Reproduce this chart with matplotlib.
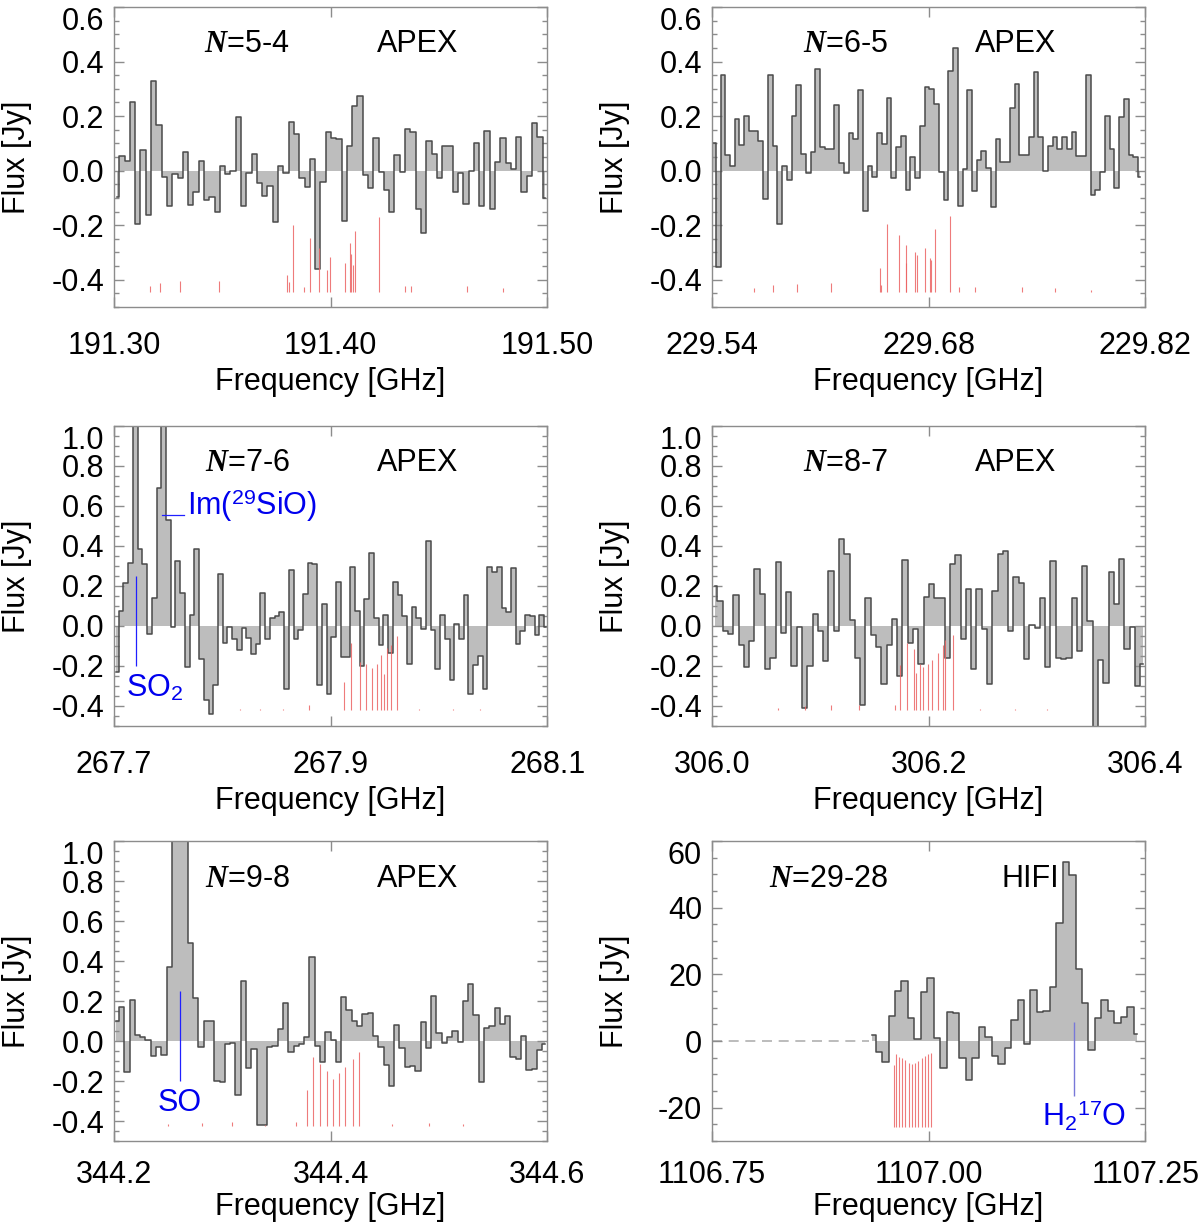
import numpy as np
import matplotlib
matplotlib.use("Agg")
import matplotlib.pyplot as plt
from matplotlib.ticker import MultipleLocator
from matplotlib.transforms import blended_transform_factory

plt.rcParams['font.family'] = ['Liberation Sans', 'DejaVu Sans']
plt.rcParams['mathtext.fontset'] = 'custom'
plt.rcParams['mathtext.rm'] = 'Liberation Sans'
plt.rcParams['mathtext.it'] = 'Liberation Serif:italic:bold'
plt.rcParams['mathtext.bf'] = 'Liberation Sans:bold'

# ---- spectra: first channel frequency, channel width (GHz), flux (Jy) ----
p1_f0, p1_df = 191.30123, 0.002443
p1_flux = [-0.095, 0.054, 0.034, 0.25, -0.196, 0.074, -0.163, 0.33, 0.166, -0.024,
           -0.13, -0.011, -0.027, 0.067, -0.126, -0.077, 0.034, -0.107, -0.096, -0.151,
           0.017, -0.012, 0.0, 0.195, -0.13, -0.01, 0.06, -0.044, -0.093, -0.057,
           -0.188, 0.018, -0.01, 0.18, 0.133, -0.028, -0.059, 0.041, -0.359, -0.04,
           0.14, 0.12, 0.115, -0.183, 0.09, 0.237, 0.274, -0.017, -0.065, 0.118,
           -0.005, -0.071, -0.152, 0.057, -0.006, 0.151, 0.14, -0.141, -0.229, 0.11,
           0.06, -0.026, 0.091, 0.091, -0.08, -0.01, -0.121, 0.0, 0.102, -0.129,
           0.146, -0.141, 0.033, 0.118, 0.027, 0.007, 0.122, -0.079, -0.018, 0.176,
           0.124, -0.1]

p2_f0, p2_df = 229.54093, 0.003067
p2_flux = [0.102, -0.355, 0.351, 0.057, 0.017, 0.188, 0.093, 0.199, 0.145, 0.145,
           0.107, -0.105, 0.351, 0.09, -0.195, 0.017, -0.034, 0.202, 0.315, 0.06,
           -0.009, 0.068, 0.374, 0.088, 0.079, 0.079, 0.239, 0.027, -0.009, 0.137,
           0.115, 0.294, -0.149, 0.018, -0.024, 0.137, 0.096, 0.268, -0.028, 0.088,
           0.127, -0.07, 0.05, -0.027, 0.163, 0.305, 0.3, 0.243, -0.006, -0.109,
           0.365, 0.45, -0.13, 0.005, 0.294, -0.076, 0.04, 0.072, 0.011, -0.133,
           0.115, 0.03, 0.03, 0.228, 0.316, 0.059, 0.057, 0.124, 0.363, 0.124,
           0.0, 0.091, 0.124, 0.078, 0.124, 0.078, 0.14, 0.055, 0.055, 0.352,
           -0.089, -0.072, -0.006, 0.201, 0.08, -0.065, 0.198, 0.262, 0.056, 0.05,
           -0.022]

p3_f0, p3_df = 267.70216, 0.004364
p3_flux = [-0.23, 0.073, 0.215, 0.315, 1.4, 0.383, 0.312, -0.042, 0.142, 0.692,
           1.3, 0.532, -0.005, 0.327, 0.167, -0.205, 0.057, 0.387, -0.163, -0.37,
           -0.44, -0.297, 0.262, -0.083, -0.007, -0.067, -0.122, -0.01, -0.058, -0.138,
           -0.088, 0.167, -0.067, 0.042, 0.05, 0.07, -0.317, 0.282, -0.067, -0.022,
           0.162, 0.317, 0.312, -0.293, 0.108, -0.342, -0.057, 0.22, -0.155, -0.155,
           0.295, 0.073, -0.2, 0.133, 0.365, 0.042, -0.097, 0.053, -0.133, 0.22,
           0.157, 0.05, -0.192, 0.095, 0.042, -0.013, 0.425, -0.018, -0.213, 0.057,
           -0.063, -0.268, 0.012, -0.063, 0.157, -0.338, -0.197, -0.148, -0.313, 0.295,
           0.27, 0.295, 0.092, 0.07, 0.29, -0.092, -0.025, 0.053, 0.048, -0.047,
           0.057, -0.005]

p4_f0, p4_df = 306.00266, 0.00488
p4_flux = [0.2, 0.125, -0.027, -0.042, 0.153, -0.093, -0.205, -0.077, 0.287, 0.162,
           -0.213, -0.16, 0.32, -0.033, 0.17, -0.202, -0.005, -0.408, -0.2, 0.06,
           -0.027, -0.177, 0.275, -0.027, 0.437, 0.358, 0.032, -0.16, -0.397, 0.14,
           -0.047, -0.105, -0.292, -0.093, 0.037, -0.252, 0.328, -0.083, -0.013, -0.192,
           0.145, 0.212, 0.14, 0.14, -0.16, 0.312, 0.357, -0.067, 0.183, -0.213,
           0.183, -0.013, -0.292, 0.173, 0.36, 0.375, -0.025, 0.245, 0.215, -0.163,
           0.007, -0.008, 0.14, -0.205, 0.325, -0.158, -0.165, -0.158, 0.14, -0.125,
           0.3, 0.023, -0.55, -0.168, -0.283, 0.27, 0.112, 0.333, -0.117, -0.005,
           -0.3, -0.188]

p5_f0, p5_df = 344.20216, 0.004885
p5_flux = [0.102, 0.168, -0.153, 0.205, 0.032, 0.022, 0.007, -0.073, -0.032, -0.07,
           0.368, 1.5, 1.8, 1.3, 0.49, 0.217, -0.028, 0.102, 0.102, -0.2,
           -0.205, -0.015, -0.01, -0.268, 0.302, -0.135, -0.04, -0.418, -0.418, -0.028,
           -0.023, 0.06, 0.188, -0.053, -0.023, -0.015, 0.022, 0.422, -0.023, -0.107,
           0.047, 0.005, -0.103, 0.218, 0.155, 0.102, 0.073, 0.135, 0.14, 0.027,
           -0.028, -0.12, -0.223, 0.08, -0.037, -0.128, -0.123, -0.148, 0.097, -0.037,
           0.227, 0.038, -0.012, 0.022, 0.052, -0.007, 0.198, 0.283, 0.132, -0.203,
           0.065, 0.073, 0.167, 0.083, 0.127, -0.082, -0.088, 0.027, -0.145, -0.14,
           -0.045, -0.015]

p6_f0, p6_df = 1106.93527, 0.00744
p6_flux = [1.8, -3.3, -6.2, 7.5, 15.0, 18.0, 7.0, 0.7, 14.8, 18.9,
           0.8, -8.2, 8.7, 8.4, -5.0, -11.7, -5.0, 4.2, 1.2, -4.4,
           -6.8, -2.0, 6.4, 12.3, -0.8, 15.2, 8.8, 9.0, 16.2, 35.4,
           53.7, 49.8, 21.5, 11.5, -2.8, 7.0, 12.3, 9.0, 5.5, 7.2,
           10.2, 2.0]

# ---- hyperfine components (red): frequency, top of line, common base ----
p1_hf_f = [191.31665, 191.32128, 191.33053, 191.34857, 191.37988, 191.38065, 191.3825,
           191.38759, 191.39067, 191.39483, 191.39823, 191.39961, 191.40686, 191.40917,
           191.40948, 191.41025, 191.41149, 191.42213, 191.43446, 191.43724, 191.46299,
           191.47949]
p1_hf_top = [-0.422, -0.412, -0.406, -0.404, -0.382, -0.41, -0.201, -0.427, -0.246, -0.283,
             -0.363, -0.317, -0.339, -0.267, -0.306, -0.345, -0.223, -0.171, -0.422, -0.422,
             -0.422, -0.429]
p1_hf_base = -0.445

p2_hf_f = [229.56695, 229.57927, 229.59484, 229.61668, 229.64829, 229.64898, 229.6534,
           229.6606, 229.66525, 229.66571, 229.67152, 229.67245, 229.67779, 229.68081,
           229.68174, 229.6843, 229.6936, 229.69987, 229.70986, 229.74053, 229.76168,
           229.78492]
p2_hf_top = [-0.43, -0.418, -0.415, -0.412, -0.357, -0.418, -0.195, -0.235, -0.272, -0.339,
             -0.299, -0.309, -0.284, -0.321, -0.327, -0.213, -0.168, -0.427, -0.427, -0.427,
             -0.43, -0.437]
p2_hf_base = -0.445

p3_hf_f = [267.81658, 267.83508, 267.85575, 267.88042, 267.9128, 267.91897, 267.9273,
           267.93285, 267.93809, 267.94303, 267.94673, 267.9492, 267.95197, 267.95598,
           267.96091, 267.98158, 268.01304, 268.03833]
p3_hf_top = [-0.413, -0.413, -0.413, -0.397, -0.28, -0.085, -0.18, -0.188, -0.21, -0.188,
             -0.147, -0.238, -0.108, -0.097, -0.048, -0.413, -0.413, -0.413]
p3_hf_base = -0.422

p4_hf_f = [306.06075, 306.08564, 306.10954, 306.1361, 306.16863, 306.17361, 306.17992,
           306.18622, 306.18855, 306.19187, 306.19519, 306.19917, 306.20349, 306.20846,
           306.21344, 306.2151, 306.2224, 306.24763, 306.28017, 306.30905]
p4_hf_top = [-0.408, -0.402, -0.397, -0.397, -0.397, -0.197, -0.085, -0.113, -0.233, -0.188,
             -0.205, -0.192, -0.172, -0.133, -0.097, -0.072, -0.047, -0.413, -0.413, -0.413]
p4_hf_base = -0.422

p5_hf_f = [344.24996, 344.28111, 344.30856, 344.3394, 344.36808, 344.37826, 344.38412,
           344.3906, 344.39646, 344.40201, 344.40818, 344.41342, 344.42051, 344.42606,
           344.4569, 344.49083, 344.52229]
p5_hf_top = [-0.415, -0.412, -0.407, -0.42, -0.407, -0.243, -0.082, -0.115, -0.148, -0.19,
             -0.162, -0.128, -0.09, -0.053, -0.415, -0.412, -0.415]
p5_hf_base = -0.427

p6_hf_f = [1106.96, 1106.96203, 1106.96577, 1106.9695, 1106.97324, 1106.97697, 1106.98071,
           1106.98444, 1106.98817, 1106.99191, 1106.99564, 1106.99938, 1107.00228]
p6_hf_top = [-7.2, -3.8, -4.8, -5.2, -5.8, -6.5, -6.8, -6.5, -6.0, -5.2, -4.6, -4.0, -3.5]
p6_hf_base = -25.7

# ---- panel settings ----
xlims = [(191.30, 191.50), (229.54, 229.82), (267.7, 268.1),
         (306.0, 306.4), (344.2, 344.6), (1106.75, 1107.25)]
xtick_labels = [['191.30', '191.40', '191.50'], ['229.54', '229.68', '229.82'],
                ['267.7', '267.9', '268.1'], ['306.0', '306.2', '306.4'],
                ['344.2', '344.4', '344.6'], ['1106.75', '1107.00', '1107.25']]
ylims = [(-0.5, 0.6), (-0.5, 0.6), (-0.5, 1.0), (-0.5, 1.0), (-0.5, 1.0), (-30, 60)]
transitions = ['$N$=5-4', '$N$=6-5', '$N$=7-6', '$N$=8-7', '$N$=9-8', '$N$=29-28']
telescopes = ['APEX', 'APEX', 'APEX', 'APEX', 'APEX', 'HIFI']

spectra = [(p1_f0, p1_df, p1_flux), (p2_f0, p2_df, p2_flux), (p3_f0, p3_df, p3_flux),
           (p4_f0, p4_df, p4_flux), (p5_f0, p5_df, p5_flux), (p6_f0, p6_df, p6_flux)]
hyperfine = [(p1_hf_f, p1_hf_top, p1_hf_base), (p2_hf_f, p2_hf_top, p2_hf_base),
             (p3_hf_f, p3_hf_top, p3_hf_base), (p4_hf_f, p4_hf_top, p4_hf_base),
             (p5_hf_f, p5_hf_top, p5_hf_base), (p6_hf_f, p6_hf_top, p6_hf_base)]

FS = 22
frame = '#8c8c8c'

fig = plt.figure(figsize=(12, 12.24), dpi=100)
lefts = [0.095, 0.5933]
bottoms = [0.7492, 0.4069, 0.0678]
axes = []
for i in range(6):
    row = i // 2
    ax = fig.add_axes([lefts[i % 2], bottoms[row], 0.361, 0.2451])
    axes.append(ax)

    f0, df, flux = spectra[i]
    flux = np.array(flux)
    freq = f0 + df * np.arange(len(flux))
    ax.fill_between(freq, flux, 0, step='mid', color='#bdbdbd', lw=0, zorder=1)
    ax.step(freq, flux, where='mid', color='#4a4a4a', lw=1.1, zorder=2)

    hf_f, hf_top, hf_base = hyperfine[i]
    ax.vlines(hf_f, hf_base, hf_top, color='#ec6464', lw=0.8, alpha=0.85, zorder=3)

    ax.set_xlim(*xlims[i])
    ax.set_ylim(*ylims[i])
    x0, x1 = xlims[i]
    ax.set_xticks([x0, (x0 + x1) / 2, x1], xtick_labels[i])

    y0, y1 = ylims[i]
    if i == 5:
        yt = [-20, 0, 20, 40, 60]
        ylab = ['-20', '0', '20', '40', '']
        ax.yaxis.set_minor_locator(MultipleLocator(5))
        top_lab = '60'
    else:
        yt = list(np.round(np.arange(-0.4, y1 + 0.01, 0.2), 1))
        ylab = ['%.1f' % v for v in yt]
        ylab[-1] = ''
        top_lab = '%.1f' % yt[-1]
        ax.yaxis.set_minor_locator(MultipleLocator(0.05))
    ax.set_yticks(yt, ylab)
    trans = blended_transform_factory(ax.transAxes, ax.transData)
    ax.text(-0.023, yt[-1], top_lab, transform=trans, ha='right', va='top', fontsize=FS)

    ax.tick_params(axis='both', which='both', direction='in', top=True, right=True,
                   color=frame, labelsize=FS)
    ax.tick_params(axis='both', which='major', length=7, width=1)
    ax.tick_params(axis='y', which='minor', length=3.5, width=1)
    ax.tick_params(axis='x', which='major', pad=14 if row == 2 else 17)
    ax.tick_params(axis='y', which='major', pad=7)
    for s in ax.spines.values():
        s.set_color(frame)
        s.set_linewidth(1.0)

    ax.set_xlabel('Frequency [GHz]', fontsize=FS)
    ax.set_ylabel('Flux [Jy]', fontsize=FS)
    ax.xaxis.set_label_coords(0.5, -0.17 if row == 2 else -0.2)
    ax.yaxis.set_label_coords(-0.19, 0.5)

    xa = 0.27 if i == 5 else 0.307
    xb = 0.735 if i == 5 else 0.70
    ax.text(xa, 0.875, transitions[i], transform=ax.transAxes, ha='center', va='center',
            fontsize=FS)
    ax.text(xb, 0.875, telescopes[i], transform=ax.transAxes, ha='center', va='center',
            fontsize=FS)

# ---- other species (blue) ----
ax = axes[2]
ax.vlines(267.72066, -0.2, 0.25, color='#2020ff', lw=0.9, zorder=3)
ax.text(267.7108, -0.352, 'SO$_2$', color='#0000ee', fontsize=FS, va='baseline', ha='left')
ax.plot([267.7447, 267.7648], [0.553, 0.553], color='#2020ff', lw=0.9, zorder=3)
ax.text(267.7672, 0.553, 'Im($^{29}$SiO)', color='#0000ee', fontsize=FS, va='baseline',
        ha='left')

ax = axes[4]
ax.vlines(344.26076, -0.198, 0.252, color='#2020ff', lw=0.9, zorder=3)
ax.text(344.2407, -0.348, 'SO', color='#0000ee', fontsize=FS, va='baseline', ha='left')

ax = axes[5]
ax.plot([1106.75, p6_f0 - p6_df / 2], [0, 0], color='#b0b0b0', lw=1.2, ls=(0, (6, 4)),
        zorder=1)
ax.vlines(1107.16826, -16.5, 5.8, color='#7878d8', lw=1.0, zorder=3)
ax.text(1107.1309, -25.5, 'H$_2$$^{17}$O', color='#0000ee', fontsize=FS, va='baseline',
        ha='left')

fig.savefig('out.png', dpi=100)
